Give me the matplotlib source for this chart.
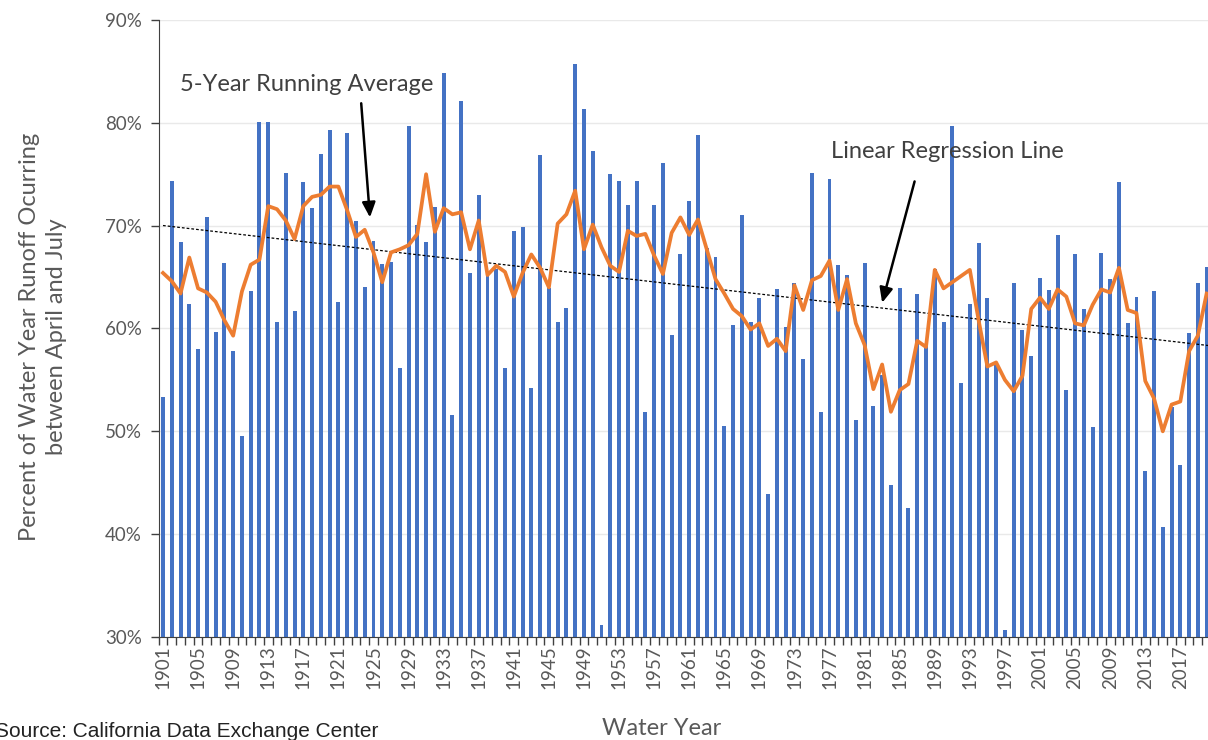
import numpy as np
from matplotlib import pyplot as plt
from matplotlib.ticker import FuncFormatter, MultipleLocator

# Percent of water year runoff occurring between April and July (1901-2020)
years = list(range(1901, 2021))
runoff_pct = [
    53.3, 74.3, 68.4, 62.4, 58.0, 70.8, 59.7, 66.4, 57.8, 49.5,  # 1901-1910
    63.6, 80.1, 80.1, 60.6, 75.1, 61.7, 74.2, 71.7, 77.0, 79.3,  # 1911-1920
    62.6, 79.0, 70.5, 64.0, 68.5, 66.3, 66.5, 56.2, 79.7, 70.1,  # 1921-1930
    68.4, 71.8, 84.8, 51.6, 82.1, 65.4, 73.0, 65.1, 65.8, 56.2,  # 1931-1940
    69.5, 69.9, 54.2, 76.9, 63.9, 60.6, 62.0, 85.7, 81.3, 77.3,  # 1941-1950
    31.2, 75.0, 74.3, 72.0, 74.3, 51.9, 72.0, 76.1, 59.4, 67.2,  # 1951-1960
    72.4, 78.8, 67.8, 67.0, 50.5, 60.3, 71.0, 60.6, 63.0, 43.9,  # 1961-1970
    63.8, 60.1, 64.4, 57.0, 75.1, 51.9, 74.5, 66.2, 65.2, 51.1,  # 1971-1980
    66.4, 52.5, 55.5, 44.8, 63.9, 42.5, 63.4, 58.5, 65.8, 60.6,  # 1981-1990
    79.7, 54.7, 62.4, 68.3, 63.0, 56.7, 30.7, 64.4, 59.9, 57.3,  # 1991-2000
    64.9, 63.7, 69.1, 54.0, 67.2, 61.9, 50.4, 67.3, 64.8, 74.2,  # 2001-2010
    60.5, 63.1, 46.1, 63.6, 40.7, 52.4, 46.7, 59.6, 64.4, 66.0,  # 2011-2020
]

# 5-year running average as plotted
running_avg = [
    65.4, 64.6, 63.4, 66.9, 63.9, 63.5, 62.6, 60.8, 59.3, 63.6,
    66.2, 66.7, 71.9, 71.6, 70.5, 68.7, 71.9, 72.8, 73.0, 73.8,
    73.8, 71.5, 68.9, 69.6, 67.4, 64.5, 67.4, 67.7, 68.1, 69.2,
    75.0, 69.4, 71.7, 71.1, 71.3, 67.7, 70.5, 65.2, 66.1, 65.5,
    63.1, 65.4, 67.2, 65.9, 64.0, 70.2, 71.1, 73.4, 67.7, 70.1,
    67.9, 66.1, 65.5, 69.5, 69.0, 69.2, 67.1, 65.3, 69.3, 70.8,
    69.1, 70.6, 67.7, 64.8, 63.4, 61.9, 61.2, 59.9, 60.5, 58.3,
    59.0, 57.8, 64.2, 61.8, 64.7, 65.1, 66.6, 61.8, 64.8, 60.5,
    58.4, 54.1, 56.5, 51.9, 54.0, 54.6, 58.8, 58.2, 65.7, 63.9,
    64.5, 65.1, 65.7, 60.8, 56.3, 56.7, 55.0, 53.9, 55.4, 61.9,
    63.0, 61.9, 63.8, 63.1, 60.5, 60.3, 62.3, 63.8, 63.5, 65.9,
    61.8, 61.5, 54.9, 53.2, 50.0, 52.6, 52.9, 57.8, 59.3, 63.4,
]

label_years = list(range(1901, 2018, 4))

text_color = "#595959"
bar_color = "#4472C4"
line_color = "#ED7D31"
font_main = "Lato"

fig = plt.figure(figsize=(12.08, 7.40), dpi=100)
ax = fig.add_axes([0.1313, 0.1392, 0.8712, 0.8338])

x = np.array(years)
y = np.array(runoff_pct)

ax.bar(x, y, width=0.45, color=bar_color, zorder=2)
ax.plot(x, running_avg, color=line_color, linewidth=2.7, solid_joinstyle="round", zorder=4)

# linear regression line through the yearly values
slope, intercept = np.polyfit(x, y, 1)
reg_x = np.array([years[0], years[-1] + 0.5])
ax.plot(reg_x, slope * reg_x + intercept, color="black", linewidth=0.9,
        linestyle=(0, (2.2, 1.6)), zorder=3)

ax.set_ylim(30, 90)
ax.set_xlim(1900.5, 2020.5)

ax.yaxis.set_major_locator(MultipleLocator(10))
ax.yaxis.set_major_formatter(FuncFormatter(lambda v, p: f"{v:.0f}%"))
ax.grid(axis="y", color="#e9e9e9", linewidth=1, zorder=0)
ax.set_axisbelow(True)

ax.set_xticks(label_years)
ax.set_xticklabels([str(v) for v in label_years], rotation=90)
ax.set_xticks(np.arange(1900.5, 2021, 1), minor=True)
ax.tick_params(axis="x", which="major", length=0, pad=6, labelsize=13.5, labelcolor=text_color)
ax.tick_params(axis="x", which="minor", length=6, width=1, color="#404040", direction="out")
ax.tick_params(axis="y", which="major", length=6, width=1, color="#404040", pad=6,
               labelsize=13.5, labelcolor=text_color)
for lab in ax.get_xticklabels() + ax.get_yticklabels():
    lab.set_fontfamily(font_main)

for side in ["top", "right"]:
    ax.spines[side].set_visible(False)
ax.spines["left"].set_color("#404040")
ax.spines["bottom"].set_color("#404040")

# axis titles
fig.text(0.0356, 0.5446, "Percent of Water Year Runoff Ocurring\nbetween April and July",
         rotation=90, ha="center", va="center", fontsize=17, color=text_color,
         family=font_main, linespacing=1.3)
fig.text(0.548, 0.016, "Water Year", ha="center", va="center", fontsize=17,
         color=text_color, family=font_main)
fig.text(-0.004, 0.011, "Source: California Data Exchange Center", ha="left", va="center",
         fontsize=15, color="#222222", family="Liberation Sans")

# annotations
arrow = dict(arrowstyle="-|>,head_length=0.9,head_width=0.4", color="black", lw=1.8,
             shrinkA=0, shrinkB=0)
ax.text(1917.4, 83.7, "5-Year Running Average", ha="center", va="center",
        fontsize=17, color="#404040", family=font_main)
ax.annotate("", xy=(1924.6, 70.8), xytext=(1923.6, 81.9), arrowprops=arrow)
ax.text(1990.45, 77.2, "Linear Regression Line", ha="center", va="center",
        fontsize=17, color="#404040", family=font_main)
ax.annotate("", xy=(1983.0, 62.5), xytext=(1986.7, 74.3), arrowprops=arrow)

plt.savefig("out.png", dpi=100)
